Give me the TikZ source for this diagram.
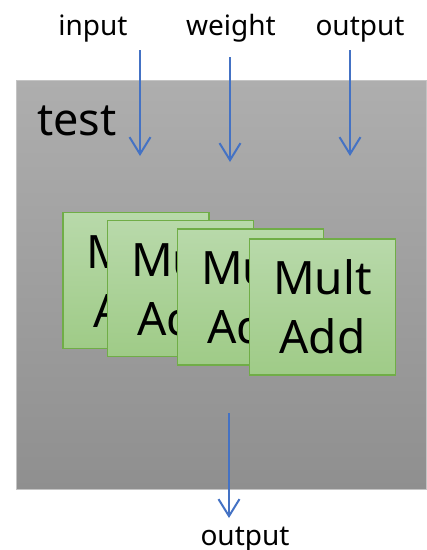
\documentclass[tikz,border=0pt]{standalone}
\usepackage{fontspec}
\setmainfont{Noto Sans}
\usetikzlibrary{arrows.meta}
\definecolor{boxgrayT}{HTML}{AEAEAE}
\definecolor{boxgrayB}{HTML}{8F8F8F}
\definecolor{boxedge}{HTML}{C4C4C4}
\definecolor{cellT}{HTML}{B8D9AA}
\definecolor{cellB}{HTML}{9FCB87}
\definecolor{celledge}{HTML}{70AD47}
\definecolor{flow}{HTML}{4472C4}
\tikzset{
  cell/.style={draw=celledge, line width=1.3pt, top color=cellT, bottom color=cellB,
    minimum width=146pt, minimum height=136pt, inner sep=0pt, align=center,
    font=\fontsize{46}{59}\selectfont},
  label/.style={anchor=base, inner sep=0pt, font=\fontsize{28}{32}\selectfont},
  flowarrow/.style={draw=flow, line width=2pt, -{Straight Barb[length=17pt,width=21pt,line width=2pt]}}
}
\begin{document}
\begin{tikzpicture}[x=1pt, y=-1pt]
\useasboundingbox (0,0) rectangle (427,550);
% enclosing block
\path[draw=boxedge, line width=0.8pt, top color=boxgrayT, bottom color=boxgrayB]
  (16.5,80.5) rectangle (426.5,489);
\node[anchor=base west, inner sep=0pt, font=\fontsize{45}{50}\selectfont] (title) at (37,135) {test};
% stacked processing cells
\node[cell] (c1) at (136,280.5) {Mult\\Add};
\node[cell] (c2) at (180.5,288.5) {Mult\\Add};
\node[cell] (c3) at (250.5,297) {Mult\\Add};
\node[cell] (c4) at (322.5,307) {Mult\\Add};
% port labels
\node[label] (lin) at (93,35) {input};
\node[label] (lwt) at (231,35) {weight};
\node[label] (lout) at (360,35) {output};
\node[label] (lres) at (245,545) {output};
% port arrows
\coordinate (a1s) at (140,50);  \coordinate (a1e) at (140,156);
\coordinate (a2s) at (230,57);  \coordinate (a2e) at (230,162);
\coordinate (a3s) at (350,50);  \coordinate (a3e) at (350,156);
\coordinate (a4s) at (229,413); \coordinate (a4e) at (229,518);
\draw[flowarrow] (a1s) -- (a1e);
\draw[flowarrow] (a2s) -- (a2e);
\draw[flowarrow] (a3s) -- (a3e);
\draw[flowarrow] (a4s) -- (a4e);
\end{tikzpicture}
\end{document}
